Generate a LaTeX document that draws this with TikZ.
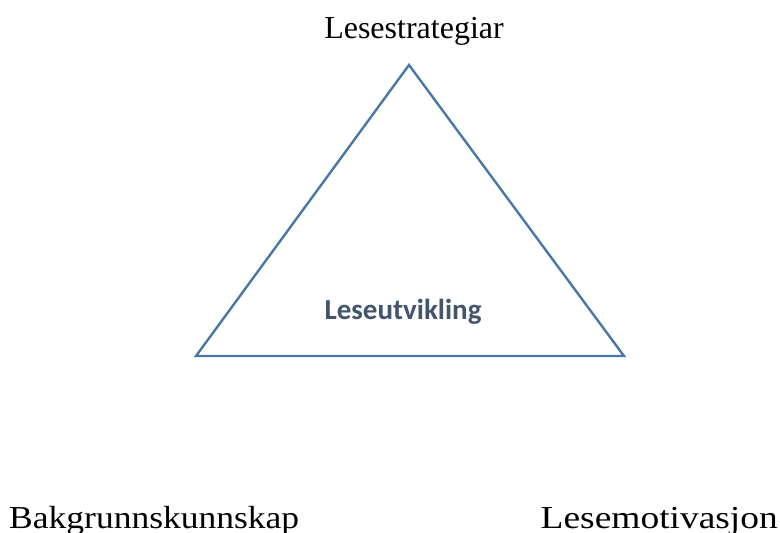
\documentclass[tikz,border=0pt]{standalone}
\usepackage{fontspec}
\setmainfont{Liberation Serif}
\newfontfamily\carlito{Carlito}
\usepackage{xcolor}
\usepackage{graphicx}
\usetikzlibrary{positioning, calc}

\definecolor{edgeblue}{RGB}{74,118,168}
\definecolor{slatetext}{RGB}{68,84,106}

\newcommand{\widetext}[2]{\scalebox{#1}[1]{#2}}

\begin{document}
\begin{tikzpicture}[
    x=1pt, y=-1pt,
    side/.style={draw=edgeblue, line width=2.4pt, line join=miter},
    corner/.style={font=\fontsize{32}{36}\selectfont, anchor=base, inner sep=0pt},
    centre/.style={font=\carlito\bfseries\fontsize{29}{34}\selectfont, text=slatetext, anchor=base, inner sep=0pt},
]
\useasboundingbox (0,0) rectangle (780,533);

% Triangle
\coordinate (top) at (409,65);
\coordinate (left) at (196,356);
\coordinate (right) at (624,356);
\draw[side] (top) -- (left) -- (right) -- cycle;

% Labels
\node[corner] (strat) at (414,38) {Lesestrategiar};
\node[corner, anchor=base west] (bakgr) at (9,528) {\widetext{1.11}{Bakgrunnskunnskap}};
\node[corner, anchor=base east] (motiv) at (778,528) {\widetext{1.17}{Lesemotivasjon}};
\node[centre] (utv) at (403,319) {Leseutvikling};

\end{tikzpicture}
\end{document}
